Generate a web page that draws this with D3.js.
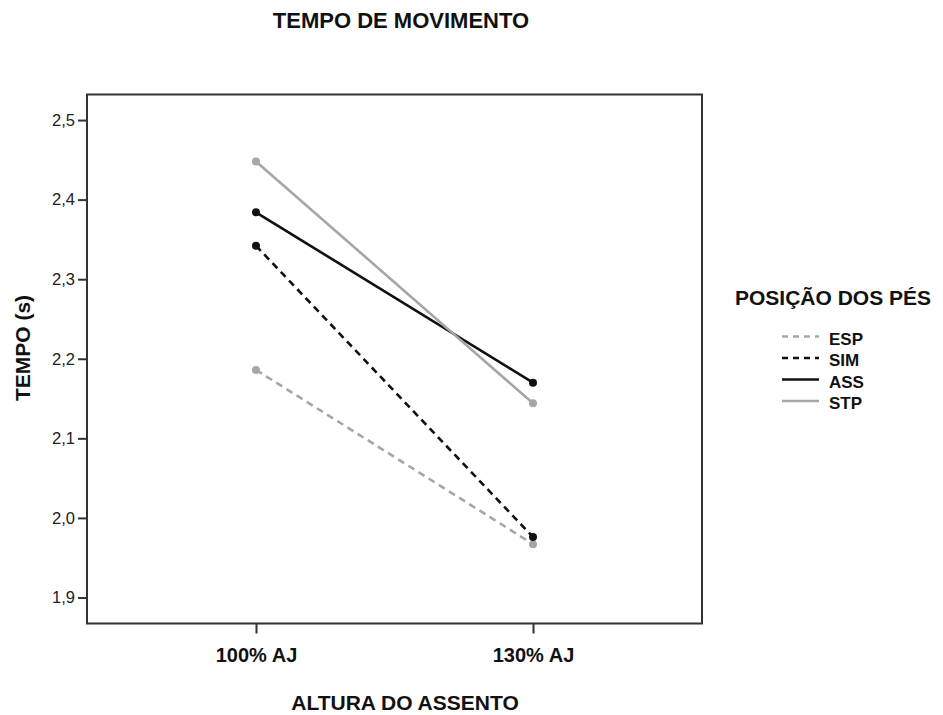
<!DOCTYPE html>
<html><head><meta charset="utf-8">
<script src="https://cdn.jsdelivr.net/npm/d3@7"></script>
<style>
body{margin:0;background:#fff;}
text{font-family:"Liberation Sans",Arial,sans-serif;}
</style></head>
<body><svg id="c" width="943" height="715"></svg>
<script>
const categories = ["100% AJ", "130% AJ"];
const seriesNames = ["ESP", "SIM", "ASS", "STP"];
const ESP = [2.186, 1.967];
const SIM = [2.342, 1.976];
const ASS = [2.384, 2.170];
const STP = [2.448, 2.144];
const yTicks = [1.9, 2.0, 2.1, 2.2, 2.3, 2.4, 2.5];
const seriesValues = {ESP, SIM, ASS, STP};
const styles = {
  ESP: {color: "#a6a6a6", dash: "7,5"},
  SIM: {color: "#111111", dash: "7,5"},
  ASS: {color: "#111111", dash: null},
  STP: {color: "#a6a6a6", dash: null}
};

const svg = d3.select("#c");
const L = 87, R = 702, T = 94.5, B = 623.5;
const x = d3.scalePoint().domain(categories).range([L, R]).padding(0.61);
const y = d3.scaleLinear().domain([1.8673, 2.5321]).range([B, T]);

// frame
svg.append("rect").attr("x", L).attr("y", T).attr("width", R - L).attr("height", B - T)
  .attr("fill", "none").attr("stroke", "#333").attr("stroke-width", 2);

// y axis
const ya = svg.append("g").attr("transform", `translate(${L},0)`)
  .call(d3.axisLeft(y).tickValues(yTicks).tickSize(9).tickPadding(3)
    .tickFormat(d => d3.format(".1f")(d).replace(".", ",")));
ya.select(".domain").remove();
ya.selectAll(".tick line").attr("stroke", "#333").attr("stroke-width", 2);
ya.selectAll(".tick text").attr("font-size", 16.5).attr("fill", "#222")
  .attr("font-family", "Liberation Sans, Arial, sans-serif");

// x axis
const xa = svg.append("g").attr("transform", `translate(0,${B})`)
  .call(d3.axisBottom(x).tickSize(10).tickPadding(14));
xa.select(".domain").remove();
xa.selectAll(".tick line").attr("stroke", "#333").attr("stroke-width", 2);
xa.selectAll(".tick text").attr("font-size", 20).attr("font-weight", "bold").attr("fill", "#111")
  .attr("font-family", "Liberation Sans, Arial, sans-serif");

// lines
const line = d3.line().x((d, i) => x(categories[i])).y(d => y(d));
seriesNames.forEach(name => {
  const vals = seriesValues[name];
  const st = styles[name];
  svg.append("path").datum(vals).attr("d", line).attr("fill", "none")
    .attr("stroke", st.color).attr("stroke-width", 2.6)
    .attr("stroke-dasharray", st.dash);
  svg.selectAll(null).data(vals).enter().append("circle")
    .attr("cx", (d, i) => x(categories[i])).attr("cy", d => y(d)).attr("r", 4)
    .attr("fill", st.color);
});

// titles
svg.append("text").attr("x", 401).attr("y", 28).attr("text-anchor", "middle")
  .attr("font-size", 22).attr("font-weight", "bold").attr("fill", "#111").text("TEMPO DE MOVIMENTO");
svg.append("text").attr("x", 405).attr("y", 710).attr("text-anchor", "middle")
  .attr("font-size", 21).attr("font-weight", "bold").attr("fill", "#111").text("ALTURA DO ASSENTO");
svg.append("text").attr("transform", "translate(30,348) rotate(-90)").attr("text-anchor", "middle")
  .attr("font-size", 21).attr("font-weight", "bold").attr("fill", "#111").text("TEMPO (s)");

// legend
svg.append("text").attr("x", 735).attr("y", 305).attr("font-size", 21).attr("font-weight", "bold")
  .attr("fill", "#111").text("POSIÇÃO DOS PÉS");
const lg = svg.append("g");
seriesNames.forEach((name, i) => {
  const cy = 336.5 + i * 21.5;
  const st = styles[name];
  lg.append("line").attr("x1", 782).attr("x2", 819).attr("y1", cy).attr("y2", cy)
    .attr("stroke", st.color).attr("stroke-width", 2.6).attr("stroke-dasharray", st.dash ? "6,5" : null);
  lg.append("text").attr("x", 829).attr("y", cy + 8).attr("font-size", 17).attr("font-weight", "bold")
    .attr("fill", "#111").text(name);
});
</script></body></html>
